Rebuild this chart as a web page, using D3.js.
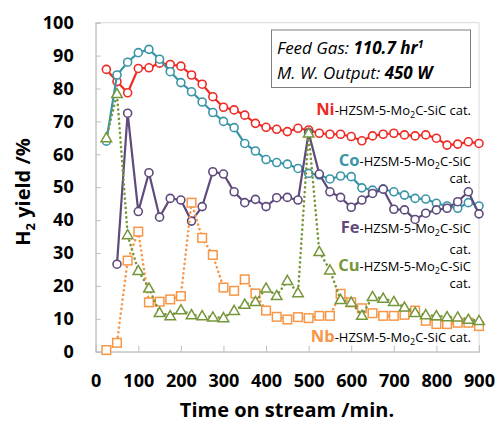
<!DOCTYPE html>
<html>
<head>
<meta charset="utf-8">
<script src="https://cdn.jsdelivr.net/npm/d3@7"></script>
<style>
  body { margin: 0; background: #fff; }
  svg { font-family: "Open Sans", "Noto Sans", sans-serif; }
</style>
</head>
<body>
<svg width="497" height="423"></svg>
<script>
// time on stream (min), one point every 25 min
var times = d3.range(1, 37).map(i => i * 25);

var ni = [85.8, 82.1, 78.7, 86.1, 86.3, 87.7, 87.3, 86.8, 84.1, 81.3, 77.5, 74.3, 73.5, 71.9, 69.4, 68.2,
          67.6, 66.9, 67.9, 67.4, 66.4, 66.1, 66.1, 65.4, 64.1, 65.6, 66.1, 66.4, 65.9, 65.6, 65.9, 64.9, 62.8, 63.1, 63.8, 63.3];
var co = [64.0, 84.1, 88.0, 90.9, 91.9, 88.9, 85.1, 81.8, 79.0, 75.9, 72.7, 70.0, 68.1, 63.3, 61.0, 58.4,
          57.5, 57.0, 55.7, 54.2, 53.7, 52.5, 53.4, 53.2, 49.8, 49.1, 49.4, 48.6, 47.6, 46.6, 46.4, 45.1, 44.3, 43.6, 45.3, 44.3];
var fe = [null, 26.6, 72.5, 42.6, 54.4, 40.9, 46.6, 46.1, 39.7, 44.1, 54.7, 54.0, 48.6, 45.3, 46.3, 44.1,
          46.8, 46.9, 46.1, 66.6, 54.0, 48.6, 46.9, 43.9, 46.1, 48.1, 49.4, 43.3, 43.1, 40.2, 42.1, 43.1, 43.6, 45.6, 48.6, 41.9];
var cu = [65.0, 78.4, 35.5, 24.6, 19.3, 11.9, 10.9, 12.7, 11.2, 10.9, 10.5, 10.3, 12.5, 14.4, 15.2, 19.3,
          17.0, 21.6, 17.9, 66.4, 30.4, 24.8, 15.8, 15.0, 11.0, 16.7, 16.2, 15.2, 13.5, 11.9, 11.2, 10.9, 10.6, 10.5, 9.8, 9.4];
var nb = [0.5, 2.7, 27.7, 36.5, 15.0, 15.2, 15.9, 16.9, 45.3, 34.6, 29.4, 19.5, 18.5, 22.0, 17.7, 12.5,
          10.6, 9.8, 10.5, 10.2, 10.9, 10.9, 17.6, 15.0, 13.2, 11.7, 10.9, 10.9, 11.2, 12.5, 9.4, 8.4, 8.4, 8.8, 8.8, 7.8];

var xTicks = [0, 100, 200, 300, 400, 500, 600, 700, 800, 900];
var yTicks = [0, 10, 20, 30, 40, 50, 60, 70, 80, 90, 100];

var series = [
  {name: "Ni", values: ni, color: "#ee2b25", marker: "circle", dotted: false},
  {name: "Co", values: co, color: "#3a95a8", marker: "circle", dotted: false},
  {name: "Fe", values: fe, color: "#5f4a7c", marker: "circle", dotted: false},
  {name: "Nb", values: nb, color: "#f79646", marker: "square", dotted: true},
  {name: "Cu", values: cu, color: "#76963a", marker: "triangle", dotted: true}
];

var svg = d3.select("svg");
var x = d3.scaleLinear().domain([0, 900]).range([95.7, 479]);
var y = d3.scaleLinear().domain([0, 100]).range([351.7, 22.7]);

// plot frame
svg.append("rect")
  .attr("x", x(0)).attr("y", y(100))
  .attr("width", x(900) - x(0)).attr("height", y(0) - y(100))
  .attr("fill", "none").attr("stroke", "#d9d9d9").attr("stroke-width", 1);

var xAxis = svg.append("g")
  .attr("transform", "translate(0," + y(0) + ")")
  .call(d3.axisBottom(x).tickValues(xTicks).tickSize(-6).tickPadding(23));
var yAxis = svg.append("g")
  .attr("transform", "translate(" + x(0) + ",0)")
  .call(d3.axisLeft(y).tickValues(yTicks).tickSize(-5).tickPadding(22));

[xAxis, yAxis].forEach(function(g) {
  g.select(".domain").attr("stroke", "#bfbfbf");
  g.selectAll(".tick line").attr("stroke", "#bfbfbf");
  g.selectAll(".tick text")
    .attr("fill", "#000")
    .style("font-size", "18px").style("font-weight", "bold")
    .style("font-family", "'Open Sans', sans-serif");
});

var line = d3.line()
  .defined(d => d[1] != null)
  .x(d => x(d[0]))
  .y(d => y(d[1]));

series.forEach(function(s) {
  var pts = times.map((t, i) => [t, s.values[i]]);
  var g = svg.append("g");
  var path = g.append("path")
    .attr("d", line(pts))
    .attr("fill", "none")
    .attr("stroke", s.color);
  if (s.dotted) {
    path.attr("stroke-width", 2.6)
      .attr("stroke-dasharray", "0.1 4.6")
      .attr("stroke-linecap", "round");
  } else {
    path.attr("stroke-width", 2.2);
  }
  var p = pts.filter(d => d[1] != null);
  if (s.marker == "circle") {
    g.selectAll("circle").data(p).enter().append("circle")
      .attr("cx", d => x(d[0])).attr("cy", d => y(d[1])).attr("r", 4)
      .attr("fill", "#fff").attr("stroke", s.color).attr("stroke-width", 1.6);
  } else if (s.marker == "square") {
    g.selectAll("rect").data(p).enter().append("rect")
      .attr("x", d => x(d[0]) - 4.3).attr("y", d => y(d[1]) - 4.3)
      .attr("width", 8.6).attr("height", 8.6)
      .attr("fill", "#fff").attr("stroke", s.color).attr("stroke-width", 1.5);
  } else {
    var tri = d3.symbol().type(d3.symbolTriangle).size(48);
    g.selectAll("path.m").data(p).enter().append("path")
      .attr("class", "m")
      .attr("d", tri)
      .attr("transform", d => "translate(" + x(d[0]) + "," + (y(d[1]) + 0.8) + ")")
      .attr("fill", "#fff").attr("stroke", s.color).attr("stroke-width", 1.5);
  }
});

// series labels
var labels = [
  {name: "Ni", color: "#ee2b25", y: 115, cat: true},
  {name: "Co", color: "#3a95a8", y: 166, cat: false, y2: 183},
  {name: "Fe", color: "#5f4a7c", y: 233, cat: false, y2: 253.5},
  {name: "Cu", color: "#76963a", y: 271, cat: false, y2: 288},
  {name: "Nb", color: "#f79646", y: 341.5, cat: true}
];
labels.forEach(function(l) {
  var t = svg.append("text")
    .attr("x", 471).attr("y", l.y)
    .attr("text-anchor", "end")
    .style("font-family", "'Open Sans', sans-serif")
    .style("font-size", "13px");
  t.append("tspan").text(l.name)
    .attr("fill", l.color).style("font-weight", "bold").style("font-size", "16.5px");
  t.append("tspan").text("-HZSM-5-Mo");
  t.append("tspan").text("2").attr("dy", 3).style("font-size", "9px");
  t.append("tspan").text(l.cat ? "C-SiC cat." : "C-SiC").attr("dy", -3);
  if (!l.cat) {
    svg.append("text")
      .attr("x", 471).attr("y", l.y2)
      .attr("text-anchor", "end")
      .style("font-family", "'Open Sans', sans-serif")
      .style("font-size", "13px")
      .text("cat.");
  }
});

// condition box
svg.append("rect")
  .attr("x", 271.5).attr("y", 30).attr("width", 199).attr("height", 57.5)
  .attr("fill", "#fff").attr("stroke", "#7f7f7f").attr("stroke-width", 1);
var b1 = svg.append("text").attr("x", 277).attr("y", 53.5)
  .style("font-size", "17px").style("font-style", "italic");
b1.append("tspan").text("Feed Gas: ");
b1.append("tspan").text("110.7 hr").style("font-weight", "bold");
b1.append("tspan").text("1").attr("dy", -6).style("font-size", "10.5px").style("font-weight", "bold");
var b2 = svg.append("text").attr("x", 277).attr("y", 78.5)
  .style("font-size", "17px").style("font-style", "italic");
b2.append("tspan").text("M. W. Output: ");
b2.append("tspan").text("450 W").style("font-weight", "bold");

// axis titles
svg.append("text")
  .attr("x", 287).attr("y", 417)
  .attr("text-anchor", "middle")
  .style("font-size", "20px").style("font-weight", "bold")
  .text("Time on stream /min.");
var yt = svg.append("text")
  .attr("transform", "translate(30,192) rotate(-90)")
  .attr("text-anchor", "middle")
  .style("font-size", "20px").style("font-weight", "bold");
yt.append("tspan").text("H");
yt.append("tspan").text("2").attr("dy", 5).style("font-size", "13px");
yt.append("tspan").text(" yield /%").attr("dy", -5);
</script>
</body>
</html>
